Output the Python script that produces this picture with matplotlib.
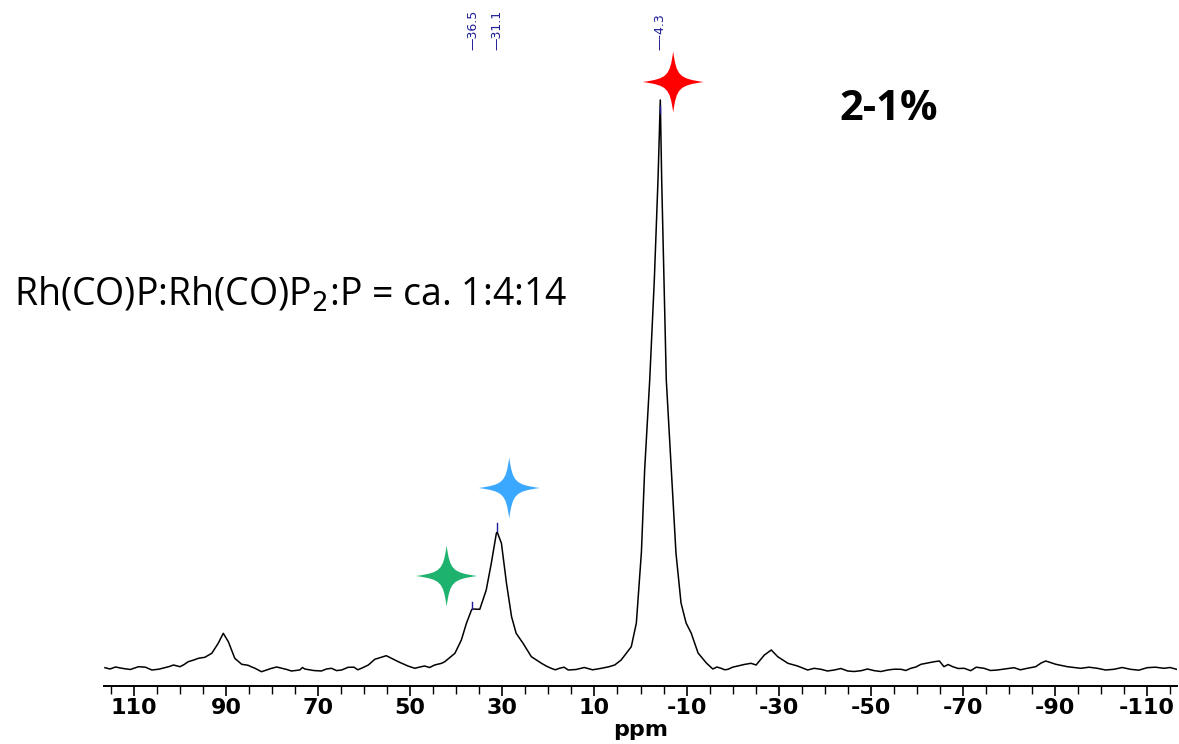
import numpy as np
import matplotlib
matplotlib.use("Agg")
import matplotlib.pyplot as plt
from matplotlib.path import Path
from matplotlib.ticker import MultipleLocator, FixedLocator

plt.rcParams["axes.unicode_minus"] = False

# 31P spectrum, chemical shift (ppm) and intensity (arb. units)
ppm = [116.3, 112.6, 109.0, 106.1, 103.3, 101.4, 100.0, 98.2, 96.0, 94.6,
       93.1, 91.7, 90.6, 89.5, 88.1, 86.6, 85.2, 83.7, 82.3, 80.1,
       77.9, 75.8, 74.0, 72.9, 69.3, 67.1, 64.9, 63.5, 60.6, 59.1,
       57.7, 55.2, 52.6, 50.5, 49.0, 46.9, 44.7, 43.2, 42.5, 40.3,
       38.9, 37.8, 36.7, 36.5, 34.9, 33.5, 32.4, 31.3, 31.1, 30.2,
       29.1, 28.0, 27.0, 25.5, 23.7, 21.5, 19.4, 17.6, 15.7, 8.5,
       5.6, 4.2, 2.0, 0.9, -0.2, -0.9, -2.0, -3.0, -3.8, -4.3,
       -4.6, -5.1, -5.6, -6.7, -7.7, -8.8, -9.9, -11.0, -12.5, -14.3,
       -15.7, -17.5, -19.0, -21.1, -24.0, -25.1, -26.9, -28.4, -29.8, -32.0,
       -34.1, -36.3, -39.2, -42.1, -45.0, -47.9, -50.8, -53.7, -56.6, -58.7,
       -60.9, -63.8, -64.9, -65.9, -67.8, -70.3, -71.7, -74.6, -77.5, -81.1,
       -84.0, -85.8, -88.0, -90.2, -92.7, -95.6, -99.2, -102.8, -106.4, -110.0,
       -113.7, -116.4]
intensity = [0.3, -0.3, 1.3, -2.0, 0.3, 3.0, 1.3, 6.3, 9.7, 10.7,
             14.7, 24.7, 34.7, 26.3, 9.7, 3.7, 2.7, -0.3, -3.7, -0.3,
             -0.3, -3.0, -2.0, -1.0, -3.0, -0.3, -2.0, 0.7, -0.3, 3.0,
             8.7, 12.3, 6.3, 2.0, -0.3, 2.0, 3.0, 4.7, 6.3, 14.7,
             28.0, 44.7, 58.0, 59.0, 58.7, 78.0, 104.7, 134.7, 135.7, 124.7,
             84.7, 51.3, 34.7, 24.7, 11.3, 4.7, -0.3, -0.3, -2.0, -0.3,
             3.0, 8.0, 21.3, 45.0, 116.0, 198.0, 288.0, 388.0, 488.0, 568.0,
             488.0, 388.0, 288.0, 198.0, 115.0, 65.0, 45.0, 35.0, 15.0, 5.0,
             -1.0, -0.3, -1.3, 2.0, 4.7, 3.0, 13.0, 18.0, 11.3, 4.7,
             2.0, -2.0, -1.3, -2.0, -3.0, -2.7, -2.7, -2.0, -1.3, -0.3,
             3.7, 6.3, 7.0, 1.3, 1.3, -0.3, -2.7, -0.3, -2.0, 0.3,
             -0.3, 1.3, 7.0, 3.7, 1.3, -0.3, -0.3, -1.3, -1.3, 0.3,
             -0.3, -1.3]

# finer baseline points (noise ripple between the readings above)
ripple_ppm = [115.2, 114.0, 110.8, 107.5, 104.6, 102.3, 99.1, 97.0,
              84.5, 81.2, 79.0, 76.8, 73.4, 71.0, 68.2, 66.0, 62.2, 61.4,
              47.9, 45.8, 20.4, 18.5, 16.6, 14.0, 12.2, 10.4, 6.9,
              -16.6, -18.3, -20.0, -22.5, -37.7, -40.6, -43.5, -46.4, -49.3,
              -52.2, -55.1, -57.6, -59.8, -62.3, -66.8, -69.0, -72.9, -76.0,
              -79.3, -82.5, -87.0, -97.4, -101.0, -104.6, -108.2, -111.8,
              -115.0]
ripple_int = [-1.0, 1.0, -1.5, 0.8, -1.2, 1.5, 3.5, 8.0,
              1.2, -2.0, 1.0, -1.5, 0.5, -2.5, -1.0, -2.6, 0.8, -1.8,
              1.0, 0.5, 1.8, -1.8, 0.8, -1.5, 0.5, -1.8, 1.2,
              1.0, -1.8, 0.8, 3.5, -0.3, -3.0, -0.5, -3.5, -1.0,
              -3.5, -1.2, -2.5, 1.0, 5.0, 3.5, -0.5, 0.8, -2.5,
              -0.8, -1.8, 5.0, 0.8, -2.0, 0.5, -2.2, 0.8,
              0.5]

# picked peaks
peak_ppm = [36.5, 31.1, -4.3]
peak_labels = ["\u201436.5", "\u201431.1", "\u2014-4.3"]
peak_tick_lo = [59, 137, 555]
peak_tick_hi = [66, 145, 562]

# star markers (ppm, intensity, colour)
star_x = [-7.1, 28.5, 42.1]
star_y = [586, 180, 92]
star_colors = ["#ff0000", "#3aa8ff", "#1db36f"]


def star_path():
    # four-pointed star with concave edges
    tips = [(0, 1), (1, 0), (0, -1), (-1, 0)]
    verts = [tips[0]]
    codes = [Path.MOVETO]
    for i in range(4):
        a = np.array(tips[i], dtype=float)
        b = np.array(tips[(i + 1) % 4], dtype=float)
        c1 = 0.2 * a + 0.11 * b
        c2 = 0.11 * a + 0.2 * b
        verts += [tuple(c1), tuple(c2), tuple(b)]
        codes += [Path.CURVE4] * 3
    verts.append((0, 0))
    codes.append(Path.CLOSEPOLY)
    return Path(verts, codes)


x_all = np.array(ppm + ripple_ppm)
y_all = np.array(intensity + ripple_int)
order = np.argsort(-x_all)

fig = plt.figure(figsize=(11.79, 7.44), dpi=100)
ax = fig.add_axes([104 / 1179, 58 / 744, 1073 / 1179, 686 / 744])

ax.plot(x_all[order], y_all[order], color="black", lw=1.1)
ax.set_xlim(116.5, -116.5)
ax.set_ylim(-18, 668)

for s in ["left", "right", "top"]:
    ax.spines[s].set_visible(False)
ax.spines["bottom"].set_linewidth(1.4)
ax.set_yticks([])

ax.xaxis.set_major_locator(FixedLocator(np.arange(110, -111, -20)))
ax.xaxis.set_minor_locator(MultipleLocator(5))
ax.tick_params(axis="x", which="major", length=7, width=1.2, pad=2,
               labelsize=16, direction="out")
ax.tick_params(axis="x", which="minor", length=6, width=1.0, direction="out")
for lab in ax.get_xticklabels():
    lab.set_fontweight("bold")
ax.set_xlabel("ppm", fontsize=16, fontweight="bold", labelpad=1)

navy = "#1c1c96"
for x, lab, lo, hi in zip(peak_ppm, peak_labels, peak_tick_lo, peak_tick_hi):
    ax.text(x, 618, lab, rotation=90, ha="center", va="bottom",
            fontsize=9, color=navy)
    ax.plot([x, x], [lo, hi], color=navy, lw=1.0)

ax.scatter(star_x, star_y, s=44 ** 2, marker=star_path(), c=star_colors,
           linewidths=0, zorder=5)

fig.text(14 / 1179, 1 - 295 / 744, "Rh(CO)P:Rh(CO)P$_2$:P = ca. 1:4:14",
         fontsize=27, family="Open Sans", va="center", ha="left")
fig.text(889 / 1179, 1 - 110 / 744, "2-1%", fontsize=30, family="Open Sans",
         fontweight="bold", va="center", ha="center")

fig.savefig("out.png", dpi=100)
